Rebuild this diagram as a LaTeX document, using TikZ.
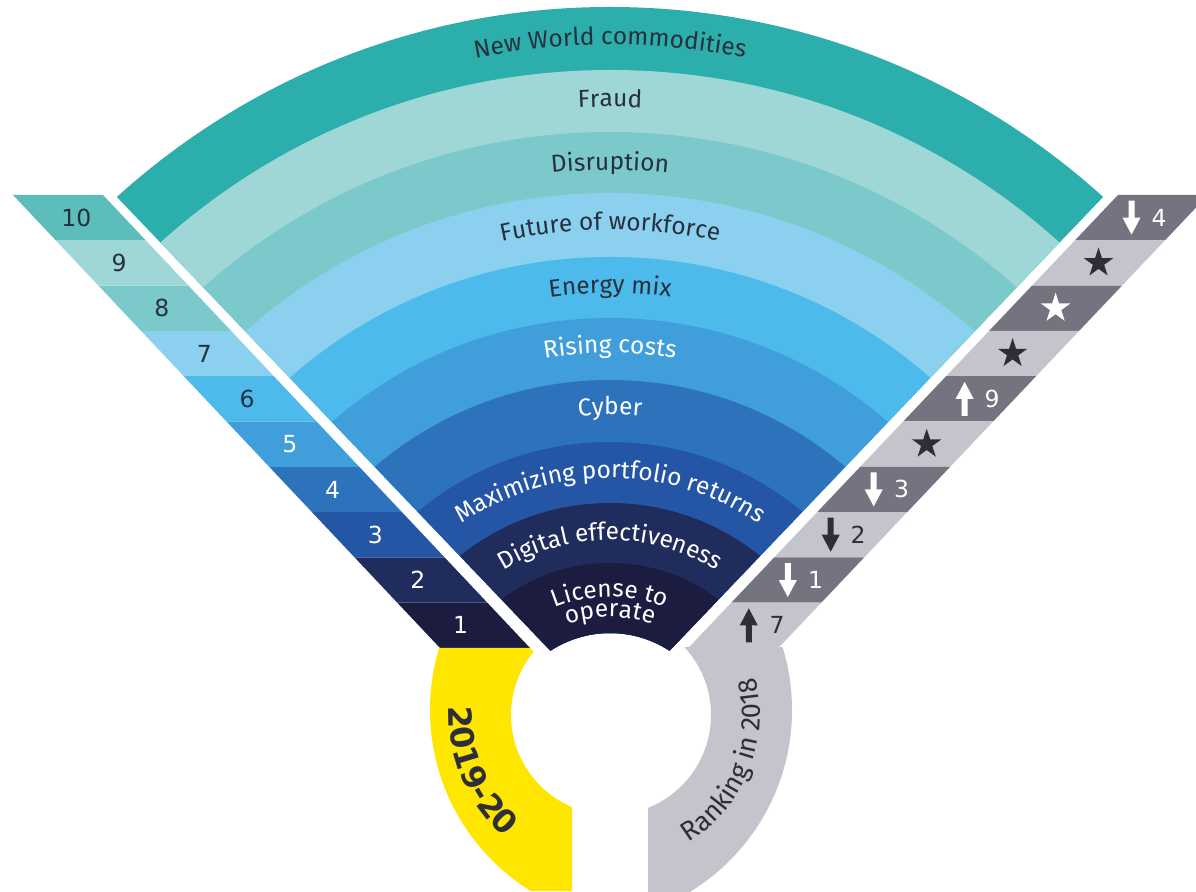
\documentclass[tikz,border=0pt]{standalone}
\usepackage{fontspec}
\setmainfont{Fira Sans}
\newfontfamily\djv{DejaVu Sans}
\usetikzlibrary{decorations.text,shapes.geometric,calc}
\definecolor{b1}{HTML}{2BAEAC}
\definecolor{b2}{HTML}{9FD7D6}
\definecolor{b3}{HTML}{7CC9CB}
\definecolor{b4}{HTML}{8CD0F0}
\definecolor{b5}{HTML}{4CBAEA}
\definecolor{b6}{HTML}{409FDB}
\definecolor{b7}{HTML}{2C73BC}
\definecolor{b8}{HTML}{2456A5}
\definecolor{b9}{HTML}{1F2C5C}
\definecolor{b10}{HTML}{1B1C40}
\definecolor{s10}{HTML}{5CBDBB}
\definecolor{eyyellow}{HTML}{FFE600}
\definecolor{ringgrey}{HTML}{C4C4CD}
\definecolor{darkgrey}{HTML}{747480}
\definecolor{stardark}{HTML}{2E2E38}
\definecolor{txtdark}{HTML}{27303D}
\newcommand\fanfont{\fontsize{24.5}{29}\selectfont}
\newcommand\numfont{\djv\fontsize{23.5}{28}\selectfont}
\newcommand\dnarr[3]{\fill[#3] (#1-3,#2+17) -- (#1+3,#2+17) -- (#1+3,#2) -- (#1+9,#2) -- (#1,#2-17) -- (#1-9,#2) -- (#1-3,#2) -- cycle;}
\newcommand\uparr[3]{\fill[#3] (#1-3,#2-17) -- (#1+3,#2-17) -- (#1+3,#2) -- (#1+9,#2) -- (#1,#2+17) -- (#1-9,#2) -- (#1-3,#2) -- cycle;}
\newcommand\arctext[3]{\path[decorate, decoration={text along path, text align=center, text={|\fanfont\color{#2}|#3}}] ($(O)+(150:#1)$) arc[start angle=150, end angle=30, radius=#1];}
\tikzset{
  numlabel/.style={font=\numfont, inner sep=0pt},
  starmark/.style={star, star points=5, star point ratio=2.618, minimum size=31pt, inner sep=0pt, draw=none}
}
\begin{document}
\begin{tikzpicture}[x=1pt,y=1pt]
\useasboundingbox (0,0) rectangle (1196,891);
\clip (0,0) rectangle (1196,891);
\fill[white] (0,0) rectangle (1196,891);
\coordinate (O) at (610,149);
\coordinate (A) at (610,178);
\coordinate (I) at (611,176);
% ---- fan ----
\begin{scope}
  \clip (A) -- ($(A)+(133.7:1100)$) -- ($(A)+(46.3:1100)$) -- cycle;
  \foreach \rad/\col in {735/b1,672/b2,610/b3,549/b4,485/b5,424/b6,362/b7,300/b8,239/b9,179/b10}
    \fill[\col, even odd rule] (O) circle[radius=\rad] (O) circle[radius=109];
\end{scope}
\arctext{697}{txtdark}{New World commodities}
\arctext{635}{txtdark}{Fraud}
\arctext{572}{txtdark}{Disruption}
\arctext{512}{txtdark}{Future of workforce}
\arctext{449}{txtdark}{Energy mix}
\arctext{389}{white}{Rising costs}
\arctext{327}{white}{Cyber}
\arctext{264}{white}{Maximizing portfolio returns}
\arctext{202}{white}{Digital effectiveness}
\arctext{145}{white}{License to}
\arctext{125}{white}{operate}
% ---- left strip ----
\foreach \k/\col/\tc in {1/b10/white,2/b9/white,3/b8/white,4/b7/white,5/b6/white,6/b5/txtdark,7/b4/txtdark,8/b3/txtdark,9/b2/txtdark,10/s10/txtdark}{
  \pgfmathsetmacro\yb{243+45.3*(\k-1)}
  \pgfmathsetmacro\yt{\yb+45.3}
  \pgfmathsetmacro\xb{440-0.9426*(\yb-243)}
  \pgfmathsetmacro\xt{440-0.9426*(\yt-243)}
  \pgfmathsetmacro\yc{\yb+22.65}
  \pgfmathsetmacro\xc{440-0.9426*(\yc-243)+42}
  \fill[\col] (\xb,\yb) -- (\xb+90,\yb) -- (\xt+90,\yt) -- (\xt,\yt) -- cycle;
  \node[numlabel, text=\tc] (L\k) at (\xc,\yc) {\k};
}
% ---- right strip ----
\foreach \k/\col in {0/darkgrey,1/ringgrey,2/darkgrey,3/ringgrey,4/darkgrey,5/ringgrey,6/darkgrey,7/ringgrey,8/darkgrey,9/ringgrey}{
  \pgfmathsetmacro\yt{696-45.3*\k}
  \pgfmathsetmacro\yb{\yt-45.3}
  \pgfmathsetmacro\xt{688.3+0.9485*(\yt-243)}
  \pgfmathsetmacro\xb{688.3+0.9485*(\yb-243)}
  \fill[\col] (\xb,\yb) -- (\xb+90,\yb) -- (\xt+90,\yt) -- (\xt,\yt) -- cycle;
}
\dnarr{1131.5}{673.35}{white}
\node[numlabel, text=white] (R4) at (1159,673.35) {4};
\node[starmark, fill=stardark] (S1) at (1098.5,628.05) {};
\node[starmark, fill=white] (S2) at (1055.6,582.75) {};
\node[starmark, fill=stardark] (S3) at (1012.6,537.45) {};
\uparr{964.6}{492.15}{white}
\node[numlabel, text=white] (R9) at (992,492.15) {9};
\node[starmark, fill=stardark] (S5) at (926.7,446.85) {};
\dnarr{873.7}{401.55}{white}
\node[numlabel, text=white] (R3) at (901.5,401.55) {3};
\dnarr{830.7}{356.25}{stardark}
\node[numlabel, text=stardark] (R2) at (858,356.25) {2};
\dnarr{787.8}{310.95}{white}
\node[numlabel, text=white] (R1) at (815.5,310.95) {1};
\uparr{748.8}{265.65}{stardark}
\node[numlabel, text=stardark] (R7) at (777,265.65) {7};
% ---- ring ----
\begin{scope}
  \clip (0,0) -- (0,243) -- (530,243) -- (759,0) -- cycle;
  \clip (0,0) rectangle (572,243);
  \fill[eyyellow, even odd rule] (643,181) circle[radius=213] (I) circle[radius=100];
\end{scope}
\begin{scope}
  \clip (648,0) rectangle (1196,243);
  \fill[ringgrey, even odd rule] (579,181) circle[radius=213] (I) circle[radius=100];
\end{scope}
\path[decorate, decoration={text along path, text align=center, text={|\djv\bfseries\fontsize{32}{38}\selectfont\color{stardark}|2019-20}}] ($(I)+(158:162)$) arc[start angle=158, end angle=248, radius=162];
\path[decorate, decoration={text along path, text align=center, text={|\fontsize{27}{32}\selectfont\color{stardark}|Ranking in 2018}}] ($(I)+(-82:149)$) arc[start angle=-82, end angle=38, radius=149];
\end{tikzpicture}
\end{document}
